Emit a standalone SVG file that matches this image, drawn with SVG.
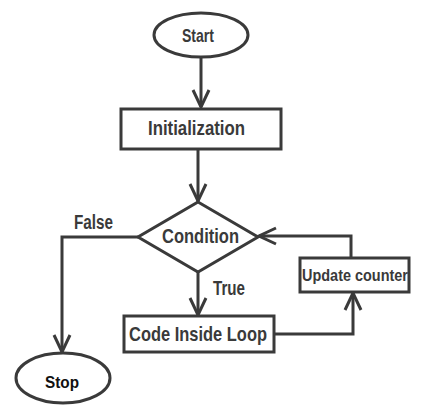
<svg xmlns="http://www.w3.org/2000/svg" width="434" height="414" viewBox="0 0 434 414">
<defs>
<style>
.shape{fill:#fff;stroke:#3a3a3a;stroke-width:3}
.line{fill:none;stroke:#3a3a3a;stroke-width:3}
.lbl{font-family:"Liberation Sans",Arial,sans-serif;font-weight:bold;fill:#3a3a3a;font-size:20px}
</style>
<marker id="arr" viewBox="0 0 20 20" refX="18" refY="10" markerWidth="20" markerHeight="20" markerUnits="userSpaceOnUse" orient="auto">
<path d="M1,2 L18,10 L1,18" fill="none" stroke="#3a3a3a" stroke-width="3"/>
</marker>
</defs>
<rect width="434" height="414" fill="#fff"/>
<g id="connectors">
<path class="line" d="M201,57 V107" marker-end="url(#arr)"/>
<path class="line" d="M198,149 V201" marker-end="url(#arr)"/>
<path class="line" d="M138,237 H62 V352" marker-end="url(#arr)"/>
<path class="line" d="M198,272 V315" marker-end="url(#arr)"/>
<path class="line" d="M274,334 H353 V293" marker-end="url(#arr)"/>
<path class="line" d="M351,258 V236 H259" marker-end="url(#arr)"/>
<text class="lbl" x="74" y="229" textLength="39" lengthAdjust="spacingAndGlyphs">False</text>
<text class="lbl" x="213" y="295" textLength="32" lengthAdjust="spacingAndGlyphs">True</text>
</g>
<g id="start">
<ellipse class="shape" cx="201" cy="35" rx="47" ry="22"/>
<text class="lbl" x="182" y="42" style="font-size:19px" textLength="32" lengthAdjust="spacingAndGlyphs">Start</text>
</g>
<g id="init">
<rect class="shape" x="121" y="109" width="160" height="40"/>
<text class="lbl" x="148" y="135" style="font-size:21px" textLength="97" lengthAdjust="spacingAndGlyphs">Initialization</text>
</g>
<g id="condition">
<polygon class="shape" points="198,202 258,237 198,272 138,237"/>
<text class="lbl" x="162" y="243" style="font-size:21px" textLength="77" lengthAdjust="spacingAndGlyphs">Condition</text>
</g>
<g id="code">
<rect class="shape" x="124" y="316" width="150" height="36"/>
<text class="lbl" x="129" y="341" style="font-size:21px" textLength="138" lengthAdjust="spacingAndGlyphs">Code Inside Loop</text>
</g>
<g id="update">
<rect class="shape" x="300" y="258" width="109" height="34"/>
<text class="lbl" x="302" y="281" style="font-size:17px" textLength="106" lengthAdjust="spacingAndGlyphs">Update counter</text>
</g>
<g id="stop">
<ellipse class="shape" cx="63" cy="378" rx="47" ry="25"/>
<text x="45" y="388" font-family="Liberation Sans, Arial, sans-serif" font-weight="bold" font-size="17" fill="#111" textLength="34" lengthAdjust="spacingAndGlyphs">Stop</text>
</g>
</svg>
